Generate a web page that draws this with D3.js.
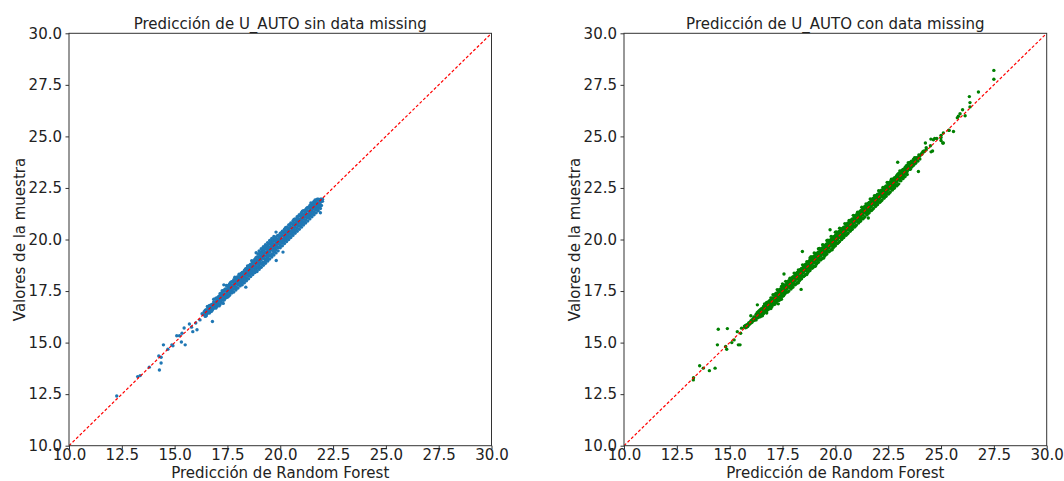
<!DOCTYPE html>
<html>
<head>
<meta charset="utf-8">
<script src="https://cdn.jsdelivr.net/npm/d3@7"></script>
<style>
  body { margin: 0; background: #fff; }
  text { font-family: "DejaVu Sans", sans-serif; }
</style>
</head>
<body>
<svg id="chart" width="1064" height="481"></svg>
<script>
// Tick labels shared by both axes of both panels
const tickValues = [10, 12.5, 15, 17.5, 20, 22.5, 25, 27.5, 30];
const titleSin = 'Predicción de U_AUTO sin data missing';
const titleCon = 'Predicción de U_AUTO con data missing';
const xLabel = 'Predicción de Random Forest';
const yLabel = 'Valores de la muestra';

// Sin data missing: isolated points [predicción, valor]
const sinOutliers = [
  [12.26, 12.41], [13.25, 13.35], [13.37, 13.4], [13.8, 13.81], [14.25, 14.35],
  [14.36, 14.29], [14.36, 14.01], [14.28, 13.67], [14.47, 14.89], [14.68, 14.68],
  [14.87, 14.89], [14.92, 14.85], [15.1, 15.33], [15.23, 15.33], [15.32, 15.03],
  [15.5, 14.89], [15.45, 15.71], [15.35, 15.45], [15.7, 15.9], [15.8, 15.75],
  [15.86, 15.53], [16.0, 15.95], [16.06, 15.62], [16.2, 16.1], [16.3, 16.4],
  [16.79, 16.02], [21.9, 21.3], [19.8, 20.36], [18.86, 19.36], [17.33, 17.8],
  [18.37, 17.69], [17.11, 16.78], [19.81, 18.98], [20.13, 19.39]
];
// Sin data missing: dense band, grouped by predicción -> valores
const sinBand = [
  [16.4, [16.35, 16.5]], [16.5, [16.45, 16.6, 16.3]], [16.6, [16.55, 16.7]],
  [16.7, [16.6, 16.75, 16.5]], [16.8, [16.85, 16.7, 16.6]], [16.9, [16.95, 16.8, 16.7]],
  [17.0, [17.05, 16.9, 16.75, 17.15]], [17.1, [17.15, 17.0, 16.85, 17.25]],
  [17.2, [17.3, 17.1, 16.95, 17.4]], [17.3, [17.35, 17.2, 17.05, 17.5, 16.9]],
  [17.4, [17.5, 17.3, 17.15, 17.6]], [17.5, [17.6, 17.45, 17.3, 17.75, 17.2]],
  [17.6, [17.7, 17.55, 17.4, 17.85, 17.3]], [17.7, [17.8, 17.65, 17.5, 17.95, 17.4]],
  [17.8, [17.9, 17.75, 17.6, 18.05, 17.45]], [17.9, [18.0, 17.85, 17.7, 18.1, 17.55]],
  [18.0, [18.1, 17.95, 17.8, 18.2, 17.65]], [18.1, [18.2, 18.05, 17.9, 18.3, 17.75]],
  [18.2, [18.25, 18.1, 17.95, 18.4, 17.8]], [18.3, [18.35, 18.2, 18.05, 18.5, 17.9]],
  [18.4, [18.45, 18.3, 18.15, 18.6, 18.0]], [18.5, [18.55, 18.4, 18.25, 18.7, 18.1]],
  [18.6, [18.65, 18.5, 18.35, 18.8, 18.2]], [18.7, [18.75, 18.6, 18.45, 18.9, 18.3]],
  [18.8, [18.9, 18.7, 18.55, 19.05, 18.4]], [18.9, [19.0, 18.8, 18.6, 19.15, 18.45]],
  [19.0, [19.1, 18.9, 18.7, 19.3, 18.55, 19.45]], [19.1, [19.2, 19.0, 18.8, 19.4, 18.65, 19.55]],
  [19.2, [19.3, 19.1, 18.9, 19.5, 18.75, 19.65]], [19.3, [19.4, 19.2, 19.0, 19.6, 18.85, 19.75]],
  [19.4, [19.5, 19.3, 19.1, 19.7, 18.95, 19.85]], [19.5, [19.6, 19.4, 19.2, 19.8, 19.05, 19.95]],
  [19.6, [19.7, 19.5, 19.3, 19.9, 19.15, 20.05]], [19.7, [19.8, 19.6, 19.4, 20.0, 19.25, 20.15]],
  [19.8, [19.9, 19.7, 19.5, 20.1, 19.35]], [19.9, [20.0, 19.8, 19.6, 20.2, 19.45]],
  [20.0, [20.1, 19.9, 19.75, 20.3, 19.6]], [20.1, [20.2, 20.0, 19.85, 20.4, 19.7]],
  [20.2, [20.3, 20.1, 19.95, 20.5, 19.8]], [20.3, [20.4, 20.2, 20.05, 20.6, 19.9]],
  [20.4, [20.5, 20.3, 20.15, 20.7, 20.0]], [20.5, [20.6, 20.4, 20.25, 20.8, 20.1]],
  [20.6, [20.7, 20.5, 20.35, 20.9, 20.2]], [20.7, [20.8, 20.6, 20.45, 21.0, 20.3]],
  [20.8, [20.9, 20.7, 20.55, 21.1, 20.4]], [20.9, [21.0, 20.8, 20.65, 21.2, 20.5]],
  [21.0, [21.1, 20.9, 20.75, 21.3, 20.6]], [21.1, [21.2, 21.0, 20.85, 21.4, 20.7]],
  [21.2, [21.3, 21.1, 20.95, 21.45, 20.8]], [21.3, [21.4, 21.2, 21.05, 21.55, 20.9]],
  [21.4, [21.5, 21.3, 21.15, 21.65, 21.0]], [21.5, [21.6, 21.4, 21.25, 21.75, 21.1]],
  [21.6, [21.7, 21.5, 21.35, 21.85, 21.2]], [21.7, [21.8, 21.6, 21.45, 21.9, 21.3]],
  [21.8, [21.9, 21.7, 21.55, 21.95, 21.4]], [21.9, [21.95, 21.8, 21.65, 21.5]],
  [22.0, [21.95, 21.85]],
  [16.45, [16.57, 16.42, 16.27]], [16.55, [16.57, 16.41, 16.75]],
  [16.65, [16.73, 16.57, 16.43, 16.8]], [16.75, [16.7, 16.85, 16.52]],
  [16.85, [16.97, 16.82, 16.67, 17.1]], [16.95, [16.97, 16.81, 17.15, 16.67]],
  [17.05, [17.13, 16.97, 16.83, 17.2]], [17.15, [17.1, 17.25, 16.85, 17.37]],
  [17.25, [17.37, 17.22, 17.07, 17.52]], [17.35, [17.37, 17.21, 17.55, 17.07]],
  [17.45, [17.53, 17.37, 17.23, 17.6, 17.77]], [17.55, [17.5, 17.65, 17.25, 17.77]],
  [17.65, [17.77, 17.62, 17.47, 17.92]], [17.75, [17.77, 17.61, 17.95, 17.47]],
  [17.85, [17.93, 17.77, 17.63, 18.0, 18.17]], [17.95, [17.9, 18.05, 17.65, 18.17]],
  [18.05, [18.17, 18.02, 17.87, 18.32]], [18.15, [18.17, 18.01, 18.35, 17.87]],
  [18.25, [18.33, 18.17, 18.03, 18.4]], [18.35, [18.3, 18.45, 18.05, 18.57]],
  [18.45, [18.57, 18.42, 18.27, 18.72]], [18.55, [18.57, 18.41, 18.75, 18.27]],
  [18.65, [18.73, 18.57, 18.43, 18.8, 18.97]], [18.75, [18.7, 18.85, 18.45, 18.97]],
  [18.85, [18.97, 18.82, 18.67, 19.12, 18.5]], [18.95, [18.97, 18.81, 19.15, 18.67, 19.3]],
  [19.05, [19.13, 18.97, 18.83, 19.2, 19.37, 18.65]], [19.15, [19.1, 19.25, 18.85, 19.37, 19.5]],
  [19.25, [19.37, 19.22, 19.07, 19.52, 18.9]], [19.35, [19.37, 19.21, 19.55, 19.07, 19.7]],
  [19.45, [19.53, 19.37, 19.23, 19.6, 19.77, 19.05]], [19.55, [19.5, 19.65, 19.25, 19.77, 19.9]],
  [19.65, [19.77, 19.62, 19.47, 19.92, 19.3]], [19.75, [19.77, 19.61, 19.95, 19.47, 20.1]],
  [19.85, [19.93, 19.77, 19.63, 20.0, 20.17]], [19.95, [19.9, 20.05, 19.65, 20.17]],
  [20.05, [20.17, 20.02, 19.87, 20.32]], [20.15, [20.17, 20.01, 20.35, 19.87]],
  [20.25, [20.33, 20.17, 20.03, 20.4, 20.57]], [20.35, [20.3, 20.45, 20.05, 20.57]],
  [20.45, [20.57, 20.42, 20.27, 20.72]], [20.55, [20.57, 20.41, 20.75, 20.27]],
  [20.65, [20.73, 20.57, 20.43, 20.8, 20.97]], [20.75, [20.7, 20.85, 20.45, 20.97]],
  [20.85, [20.97, 20.82, 20.67, 21.12]], [20.95, [20.97, 20.81, 21.15, 20.67]],
  [21.05, [21.13, 20.97, 20.83, 21.2, 21.37]], [21.15, [21.1, 21.25, 20.85, 21.37]],
  [21.25, [21.37, 21.22, 21.07, 21.52]], [21.35, [21.37, 21.21, 21.55, 21.07]],
  [21.45, [21.53, 21.37, 21.23, 21.6, 21.77]], [21.55, [21.5, 21.65, 21.25, 21.77]],
  [21.65, [21.77, 21.62, 21.47, 21.92]], [21.75, [21.77, 21.61, 21.95, 21.47]],
  [21.85, [21.93, 21.77, 21.63]], [21.95, [21.9, 21.95, 21.65]]
];

// Con data missing: isolated points [predicción, valor]
const conOutliers = [
  [13.28, 13.19], [13.29, 13.3], [13.58, 13.88], [13.75, 13.76], [14.04, 13.64],
  [14.31, 13.76], [14.42, 14.89], [14.46, 15.65], [14.81, 14.81], [14.86, 14.68],
  [14.89, 15.68], [15.1, 15.0], [15.21, 15.13], [15.36, 15.53], [15.41, 14.89],
  [15.49, 14.89], [15.52, 15.45], [15.56, 15.7], [16.0, 16.3], [16.31, 16.83],
  [16.33, 16.43], [16.75, 16.43], [17.3, 16.88], [17.57, 18.33], [17.8, 17.96],
  [18.38, 17.58], [18.44, 19.42], [19.75, 20.47], [21.56, 21.04], [22.95, 23.75],
  [23.61, 23.62], [23.93, 23.3], [24.26, 24.68], [24.52, 24.87], [24.53, 24.25],
  [24.6, 24.29], [24.64, 24.84], [24.7, 24.9], [25.0, 24.8], [25.08, 24.68],
  [25.11, 25.17], [25.11, 24.68], [25.0, 25.05], [25.37, 25.3], [25.38, 25.29],
  [25.59, 25.24], [25.77, 25.9], [25.82, 25.98], [25.9, 26.1], [26.02, 26.29],
  [26.14, 26.0], [26.34, 26.93], [26.37, 26.64], [26.37, 26.43], [26.77, 27.15],
  [27.5, 28.2], [27.5, 27.77]
];
// Con data missing: dense band, grouped by predicción -> valores
const conBand = [
  [15.7, [15.75, 15.8]], [15.8, [15.85, 15.75]], [15.9, [15.95, 15.85]],
  [16.0, [16.05, 15.95]], [16.1, [16.15, 16.05]], [16.2, [16.25, 16.1]],
  [16.3, [16.35, 16.2, 16.45]], [16.4, [16.45, 16.3, 16.55]],
  [16.5, [16.55, 16.4, 16.65, 16.3]], [16.6, [16.65, 16.5, 16.75, 16.4]],
  [16.7, [16.75, 16.6, 16.85, 16.5]], [16.8, [16.85, 16.7, 16.95, 16.6]],
  [16.9, [16.95, 16.8, 17.05, 16.65]], [17.0, [17.05, 16.9, 17.15, 16.75]],
  [17.1, [17.15, 17.0, 17.3, 16.85]], [17.2, [17.25, 17.1, 17.4, 16.95]],
  [17.3, [17.35, 17.2, 17.5, 17.05]], [17.4, [17.45, 17.3, 17.6, 17.15]],
  [17.5, [17.55, 17.4, 17.7, 17.25, 17.85]], [17.6, [17.65, 17.5, 17.8, 17.35]],
  [17.7, [17.75, 17.6, 17.9, 17.45]], [17.8, [17.85, 17.7, 18.0, 17.5]],
  [17.9, [17.95, 17.8, 18.1, 17.6]], [18.0, [18.05, 17.9, 18.2, 17.7]],
  [18.1, [18.15, 18.0, 18.3, 17.8]], [18.2, [18.25, 18.1, 18.4, 17.9]],
  [18.3, [18.35, 18.2, 18.5, 18.0]], [18.4, [18.45, 18.3, 18.6, 18.1]],
  [18.5, [18.55, 18.4, 18.7, 18.2]], [18.6, [18.65, 18.5, 18.8, 18.3]],
  [18.7, [18.75, 18.6, 18.9, 18.4]], [18.8, [18.85, 18.7, 19.0, 18.5, 19.1]],
  [18.9, [18.95, 18.8, 19.1, 18.6]], [19.0, [19.05, 18.9, 19.2, 18.7, 19.35]],
  [19.1, [19.15, 19.0, 19.3, 18.8]], [19.2, [19.25, 19.1, 19.4, 18.9, 19.55]],
  [19.3, [19.35, 19.2, 19.5, 19.0]], [19.4, [19.45, 19.3, 19.6, 19.1, 19.75]],
  [19.5, [19.55, 19.4, 19.7, 19.2]], [19.6, [19.65, 19.5, 19.8, 19.3, 19.95]],
  [19.7, [19.75, 19.6, 19.9, 19.4]], [19.8, [19.85, 19.7, 20.0, 19.5, 20.15]],
  [19.9, [19.95, 19.8, 20.1, 19.6]], [20.0, [20.05, 19.9, 20.2, 19.7, 20.35]],
  [20.1, [20.15, 20.0, 20.3, 19.8]], [20.2, [20.25, 20.1, 20.4, 19.9, 20.55]],
  [20.3, [20.35, 20.2, 20.5, 20.0]], [20.4, [20.45, 20.3, 20.6, 20.1]],
  [20.5, [20.55, 20.4, 20.7, 20.2]], [20.6, [20.65, 20.5, 20.8, 20.3]],
  [20.7, [20.75, 20.6, 20.9, 20.4]], [20.8, [20.85, 20.7, 21.0, 20.5]],
  [20.9, [20.95, 20.8, 21.1, 20.6]], [21.0, [21.05, 20.9, 21.2, 20.7]],
  [21.1, [21.15, 21.0, 21.3, 20.8]], [21.2, [21.25, 21.1, 21.4, 20.9]],
  [21.3, [21.35, 21.2, 21.5, 21.0]], [21.4, [21.45, 21.3, 21.6, 21.1]],
  [21.5, [21.55, 21.4, 21.7, 21.2]], [21.6, [21.65, 21.5, 21.8, 21.3]],
  [21.7, [21.75, 21.6, 21.9, 21.4]], [21.8, [21.85, 21.7, 22.0, 21.5]],
  [21.9, [21.95, 21.8, 22.1, 21.6]], [22.0, [22.05, 21.9, 22.2, 21.7]],
  [22.1, [22.15, 22.0, 22.3, 21.8]], [22.2, [22.25, 22.1, 22.4, 21.9]],
  [22.3, [22.35, 22.2, 22.5, 22.0]], [22.4, [22.45, 22.3, 22.6, 22.1]],
  [22.5, [22.55, 22.4, 22.7, 22.2]], [22.6, [22.65, 22.5, 22.8, 22.3]],
  [22.7, [22.75, 22.6, 22.9, 22.4]], [22.8, [22.85, 22.7, 23.0, 22.5]],
  [22.9, [22.95, 22.8, 23.1, 22.6]], [23.0, [23.05, 22.9, 23.2, 22.7]],
  [23.1, [23.15, 23.0, 23.3, 22.85]], [23.2, [23.25, 23.1, 23.4, 22.95]],
  [23.3, [23.35, 23.2, 23.5, 23.05]], [23.4, [23.45, 23.3, 23.6, 23.15]],
  [23.5, [23.55, 23.4, 23.7]], [23.6, [23.65, 23.5, 23.8]],
  [23.7, [23.75, 23.6, 23.9]], [23.8, [23.85, 23.7, 23.95]],
  [23.9, [23.95, 23.8]], [24.0, [24.05, 23.9]], [24.1, [24.15, 24.2]],
  [24.2, [24.25, 24.3]], [24.3, [24.35, 24.45]], [24.5, [24.55]],
  [24.8, [24.9]], [25.0, [24.95]],
  [15.75, [15.72, 15.83]], [15.85, [15.88, 15.78]], [15.95, [15.98, 15.9]],
  [16.05, [16.1, 15.98]], [16.15, [16.2, 16.08, 16.25]],
  [16.25, [16.37, 16.22, 16.1]], [16.35, [16.37, 16.21, 16.5]],
  [16.45, [16.53, 16.37, 16.25, 16.6]], [16.55, [16.5, 16.65, 16.3]],
  [16.65, [16.77, 16.62, 16.47, 16.87]], [16.75, [16.77, 16.61, 16.95, 16.5]],
  [16.85, [16.93, 16.77, 16.63, 17.0]], [16.95, [16.9, 17.05, 16.65, 17.17]],
  [17.05, [17.17, 17.02, 16.87, 17.32]], [17.15, [17.17, 17.01, 17.35, 16.87]],
  [17.25, [17.33, 17.17, 17.03, 17.4, 17.57]], [17.35, [17.3, 17.45, 17.05, 17.57]],
  [17.45, [17.57, 17.42, 17.27, 17.72, 17.1]], [17.55, [17.57, 17.41, 17.75, 17.27]],
  [17.65, [17.73, 17.57, 17.43, 17.8, 17.97]], [17.75, [17.7, 17.85, 17.45, 17.97]],
  [17.85, [17.97, 17.82, 17.67, 18.12]], [17.95, [17.97, 17.81, 18.15, 17.67]],
  [18.05, [18.13, 17.97, 17.83, 18.2, 18.37]], [18.15, [18.1, 18.25, 17.85, 18.37]],
  [18.25, [18.37, 18.22, 18.07, 18.52, 17.9]], [18.35, [18.37, 18.21, 18.55, 18.07]],
  [18.45, [18.53, 18.37, 18.23, 18.6, 18.77]], [18.55, [18.5, 18.65, 18.25, 18.77]],
  [18.65, [18.77, 18.62, 18.47, 18.92, 18.3]], [18.75, [18.77, 18.61, 18.95, 18.47]],
  [18.85, [18.93, 18.77, 18.63, 19.0, 19.17]], [18.95, [18.9, 19.05, 18.65, 19.17]],
  [19.05, [19.17, 19.02, 18.87, 19.32, 18.7]], [19.15, [19.17, 19.01, 19.35, 18.87]],
  [19.25, [19.33, 19.17, 19.03, 19.4, 19.57]], [19.35, [19.3, 19.45, 19.05, 19.57]],
  [19.45, [19.57, 19.42, 19.27, 19.72, 19.1]], [19.55, [19.57, 19.41, 19.75, 19.27]],
  [19.65, [19.73, 19.57, 19.43, 19.8, 19.97]], [19.75, [19.7, 19.85, 19.45, 19.97]],
  [19.85, [19.97, 19.82, 19.67, 20.12, 19.5]], [19.95, [19.97, 19.81, 20.15, 19.67]],
  [20.05, [20.13, 19.97, 19.83, 20.2, 20.37]], [20.15, [20.1, 20.25, 19.85, 20.37]],
  [20.25, [20.37, 20.22, 20.07, 20.52]], [20.35, [20.37, 20.21, 20.55, 20.07]],
  [20.45, [20.53, 20.37, 20.23, 20.6, 20.77]], [20.55, [20.5, 20.65, 20.25, 20.77]],
  [20.65, [20.77, 20.62, 20.47, 20.92]], [20.75, [20.77, 20.61, 20.95, 20.47]],
  [20.85, [20.93, 20.77, 20.63, 21.0, 21.17]], [20.95, [20.9, 21.05, 20.65, 21.17]],
  [21.05, [21.17, 21.02, 20.87, 21.32]], [21.15, [21.17, 21.01, 21.35, 20.87]],
  [21.25, [21.33, 21.17, 21.03, 21.4, 21.57]], [21.35, [21.3, 21.45, 21.05, 21.57]],
  [21.45, [21.57, 21.42, 21.27, 21.72]], [21.55, [21.57, 21.41, 21.75, 21.27]],
  [21.65, [21.73, 21.57, 21.43, 21.8, 21.97]], [21.75, [21.7, 21.85, 21.45, 21.97]],
  [21.85, [21.97, 21.82, 21.67, 22.12]], [21.95, [21.97, 21.81, 22.15, 21.67]],
  [22.05, [22.13, 21.97, 21.83, 22.2, 22.37]], [22.15, [22.1, 22.25, 21.85, 22.37]],
  [22.25, [22.37, 22.22, 22.07, 22.52]], [22.35, [22.37, 22.21, 22.55, 22.07]],
  [22.45, [22.53, 22.37, 22.23, 22.6, 22.77]], [22.55, [22.5, 22.65, 22.25, 22.77]],
  [22.65, [22.77, 22.62, 22.47, 22.92]], [22.75, [22.77, 22.61, 22.95, 22.47]],
  [22.85, [22.93, 22.77, 22.63, 23.0]], [22.95, [22.9, 23.05, 22.65, 23.17]],
  [23.05, [23.17, 23.02, 22.87, 23.32]], [23.15, [23.17, 23.01, 23.35]],
  [23.25, [23.33, 23.17, 23.03, 23.4]], [23.35, [23.3, 23.45, 23.57]],
  [23.45, [23.57, 23.42, 23.72]], [23.55, [23.57, 23.41, 23.75]],
  [23.65, [23.73, 23.57, 23.8]], [23.75, [23.7, 23.85, 23.97]],
  [23.85, [23.97, 23.82]], [23.95, [24.0, 24.1]], [24.05, [24.12]], [24.15, [24.27]]
];

// Flatten band groups into [x, y] pairs and add the isolated points
function toPoints(band, outliers) {
    const pts = [];
    band.forEach(([x, ys]) => ys.forEach(y => pts.push([x, y])));
    return pts.concat(outliers);
}

const svg = d3.select('#chart');
svg.append('rect').attr('width', 1064).attr('height', 481).attr('fill', '#fff');

const plotTop = 33.3;
const plotHeight = 412.4;
const fmt = d3.format('.1f');

function drawPanel(left, width, title, points, color, clipId) {
    const x = d3.scaleLinear().domain([10, 30]).range([left, left + width]);
    const y = d3.scaleLinear().domain([10, 30]).range([plotTop + plotHeight, plotTop]);

    svg.append('clipPath').attr('id', clipId)
        .append('rect')
        .attr('x', left).attr('y', plotTop)
        .attr('width', width).attr('height', plotHeight);

    // Scatter points
    svg.append('g')
        .attr('clip-path', `url(#${clipId})`)
        .selectAll('circle')
        .data(points)
        .enter()
        .append('circle')
        .attr('cx', d => x(d[0]))
        .attr('cy', d => y(d[1]))
        .attr('r', 1.7)
        .attr('fill', color);

    // Identity line y = x
    svg.append('line')
        .attr('clip-path', `url(#${clipId})`)
        .attr('x1', x(10)).attr('y1', y(10))
        .attr('x2', x(30)).attr('y2', y(30))
        .attr('stroke', 'red')
        .attr('stroke-width', 1.2)
        .attr('stroke-dasharray', '3,2');

    // Axes
    const xAxis = svg.append('g')
        .attr('transform', `translate(0,${plotTop + plotHeight})`)
        .call(d3.axisBottom(x).tickValues(tickValues).tickFormat(fmt).tickSize(3.5).tickPadding(0.5));
    const yAxis = svg.append('g')
        .attr('transform', `translate(${left},0)`)
        .call(d3.axisLeft(y).tickValues(tickValues).tickFormat(fmt).tickSize(3.5).tickPadding(3.5));

    [xAxis, yAxis].forEach(g => {
        g.select('.domain').remove();
        g.selectAll('line').attr('stroke', '#333').attr('stroke-width', 1);
        g.selectAll('text')
            .style('font-family', '"DejaVu Sans", sans-serif')
            .style('font-size', '15px')
            .attr('fill', '#222');
    });

    // Frame
    svg.append('rect')
        .attr('x', left).attr('y', plotTop)
        .attr('width', width).attr('height', plotHeight)
        .attr('fill', 'none')
        .attr('stroke', '#333')
        .attr('stroke-width', 1);

    // Title
    svg.append('text')
        .attr('x', left + width / 2)
        .attr('y', 29)
        .attr('text-anchor', 'middle')
        .style('font-size', '15px')
        .attr('fill', '#222')
        .text(title);

    // X axis label
    svg.append('text')
        .attr('x', left + width / 2)
        .attr('y', 478)
        .attr('text-anchor', 'middle')
        .style('font-size', '15px')
        .attr('fill', '#222')
        .text(xLabel);

    // Y axis label
    svg.append('text')
        .attr('transform', `translate(${left - 44},${plotTop + plotHeight / 2}) rotate(-90)`)
        .attr('text-anchor', 'middle')
        .style('font-size', '15px')
        .attr('fill', '#222')
        .text(yLabel);
}

drawPanel(69, 422.5, titleSin, toPoints(sinBand, sinOutliers), '#1f77b4', 'clip-sin');
drawPanel(624, 422.7, titleCon, toPoints(conBand, conOutliers), 'green', 'clip-con');
</script>
</body>
</html>
